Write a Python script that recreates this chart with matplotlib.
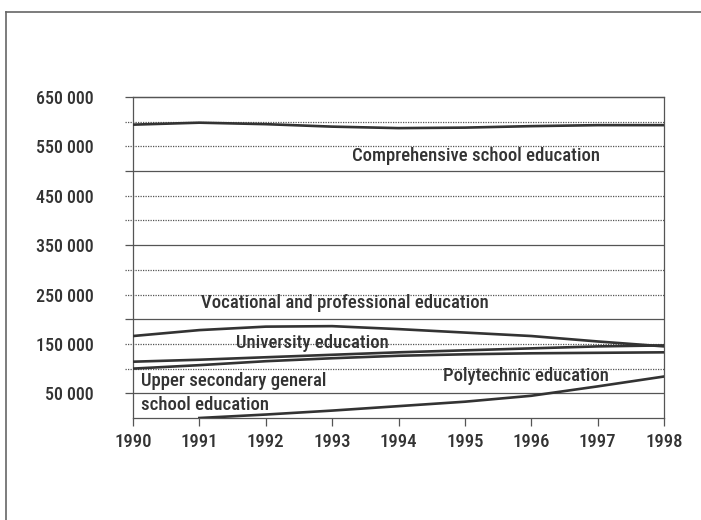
import numpy as np
import matplotlib
matplotlib.use('Agg')
import matplotlib.pyplot as plt
from matplotlib.lines import Line2D
import matplotlib.transforms as mtransforms

plt.rcParams['font.family'] = ['Roboto Condensed', 'Archivo Narrow', 'DejaVu Sans']

years = [1990, 1991, 1992, 1993, 1994, 1995, 1996, 1997, 1998]
comprehensive = [594000, 598000, 595000, 590000, 587000, 588000, 591000, 593000, 593000]
vocational = [166000, 178000, 185000, 186000, 180000, 173000, 166000, 155000, 145000]
university = [114000, 118000, 123000, 128000, 133000, 137000, 141000, 145000, 147000]
upper_secondary = [100000, 107000, 115000, 121000, 126000, 129000, 131000, 132000, 133000]
poly_years = [1991, 1992, 1993, 1994, 1995, 1996, 1997, 1998]
polytechnic = [0, 7000, 15000, 24000, 33000, 45000, 64000, 84000]

ytick_vals = [50000, 150000, 250000, 350000, 450000, 550000, 650000]
ytick_labels = ['50 000', '150 000', '250 000', '350 000', '450 000', '550 000', '650 000']
solid_grid = [50000, 200000, 350000, 500000, 650000]
dotted_grid = [100000, 150000, 250000, 300000, 400000, 450000, 550000, 600000]

ink = '#333333'
grid_col = '#555555'

fig = plt.figure(figsize=(7.01, 5.2), dpi=100)
ax = fig.add_axes([133/701, 102/520, 531/701, 321/520])

ax.set_xlim(1990, 1998)
ax.set_ylim(0, 650000)

# gridlines run a little past the left axis, like tick marks
trans = mtransforms.blended_transform_factory(ax.transAxes, ax.transData)
ax.hlines(solid_grid, -8/531, 1, transform=trans, colors=grid_col, lw=0.9, clip_on=False, zorder=1)
ax.hlines(dotted_grid, -8/531, 1, transform=trans, colors=grid_col, lw=0.9,
          linestyles=(0, (1, 1)), clip_on=False, zorder=1)

for s in [comprehensive, vocational, university, upper_secondary]:
    ax.plot(years, s, color=ink, lw=1.9, zorder=3)
ax.plot(poly_years, polytechnic, color=ink, lw=1.9, zorder=3)

for side in ['left', 'right', 'top', 'bottom']:
    ax.spines[side].set_color(grid_col)
    ax.spines[side].set_linewidth(0.9)

ax.set_yticks(ytick_vals)
ax.set_yticklabels(ytick_labels, fontweight='medium')
ax.tick_params(axis='y', length=0, pad=28, labelsize=13, labelcolor=ink)
ax.set_xticks(years)
ax.set_xticklabels([str(y) for y in years], fontweight='medium')
ax.tick_params(axis='x', length=6, width=0.9, color=grid_col, pad=5, labelsize=13.5, labelcolor=ink)

txt = dict(fontsize=13.5, color=ink, va='center', ha='left', zorder=4, fontweight='medium')
ax.text(1993.3, 530000, 'Comprehensive school education', **txt)
ax.text(1991.02, 233000, 'Vocational and professional education', **txt)
ax.text(1991.55, 152000, 'University education', **txt)
ax.text(1990.12, 50000, 'Upper secondary general\nschool education', linespacing=1.45, **txt)
ax.text(1994.67, 85000, 'Polytechnic education', **txt)

# outer frame, left and top edges
fig.add_artist(Line2D([6/701, 6/701], [0, 1 - 12/520], color='#666666', lw=1.2))
fig.add_artist(Line2D([6/701, 1], [1 - 12/520, 1 - 12/520], color='#666666', lw=1.2))

fig.savefig('out.png', dpi=100)
